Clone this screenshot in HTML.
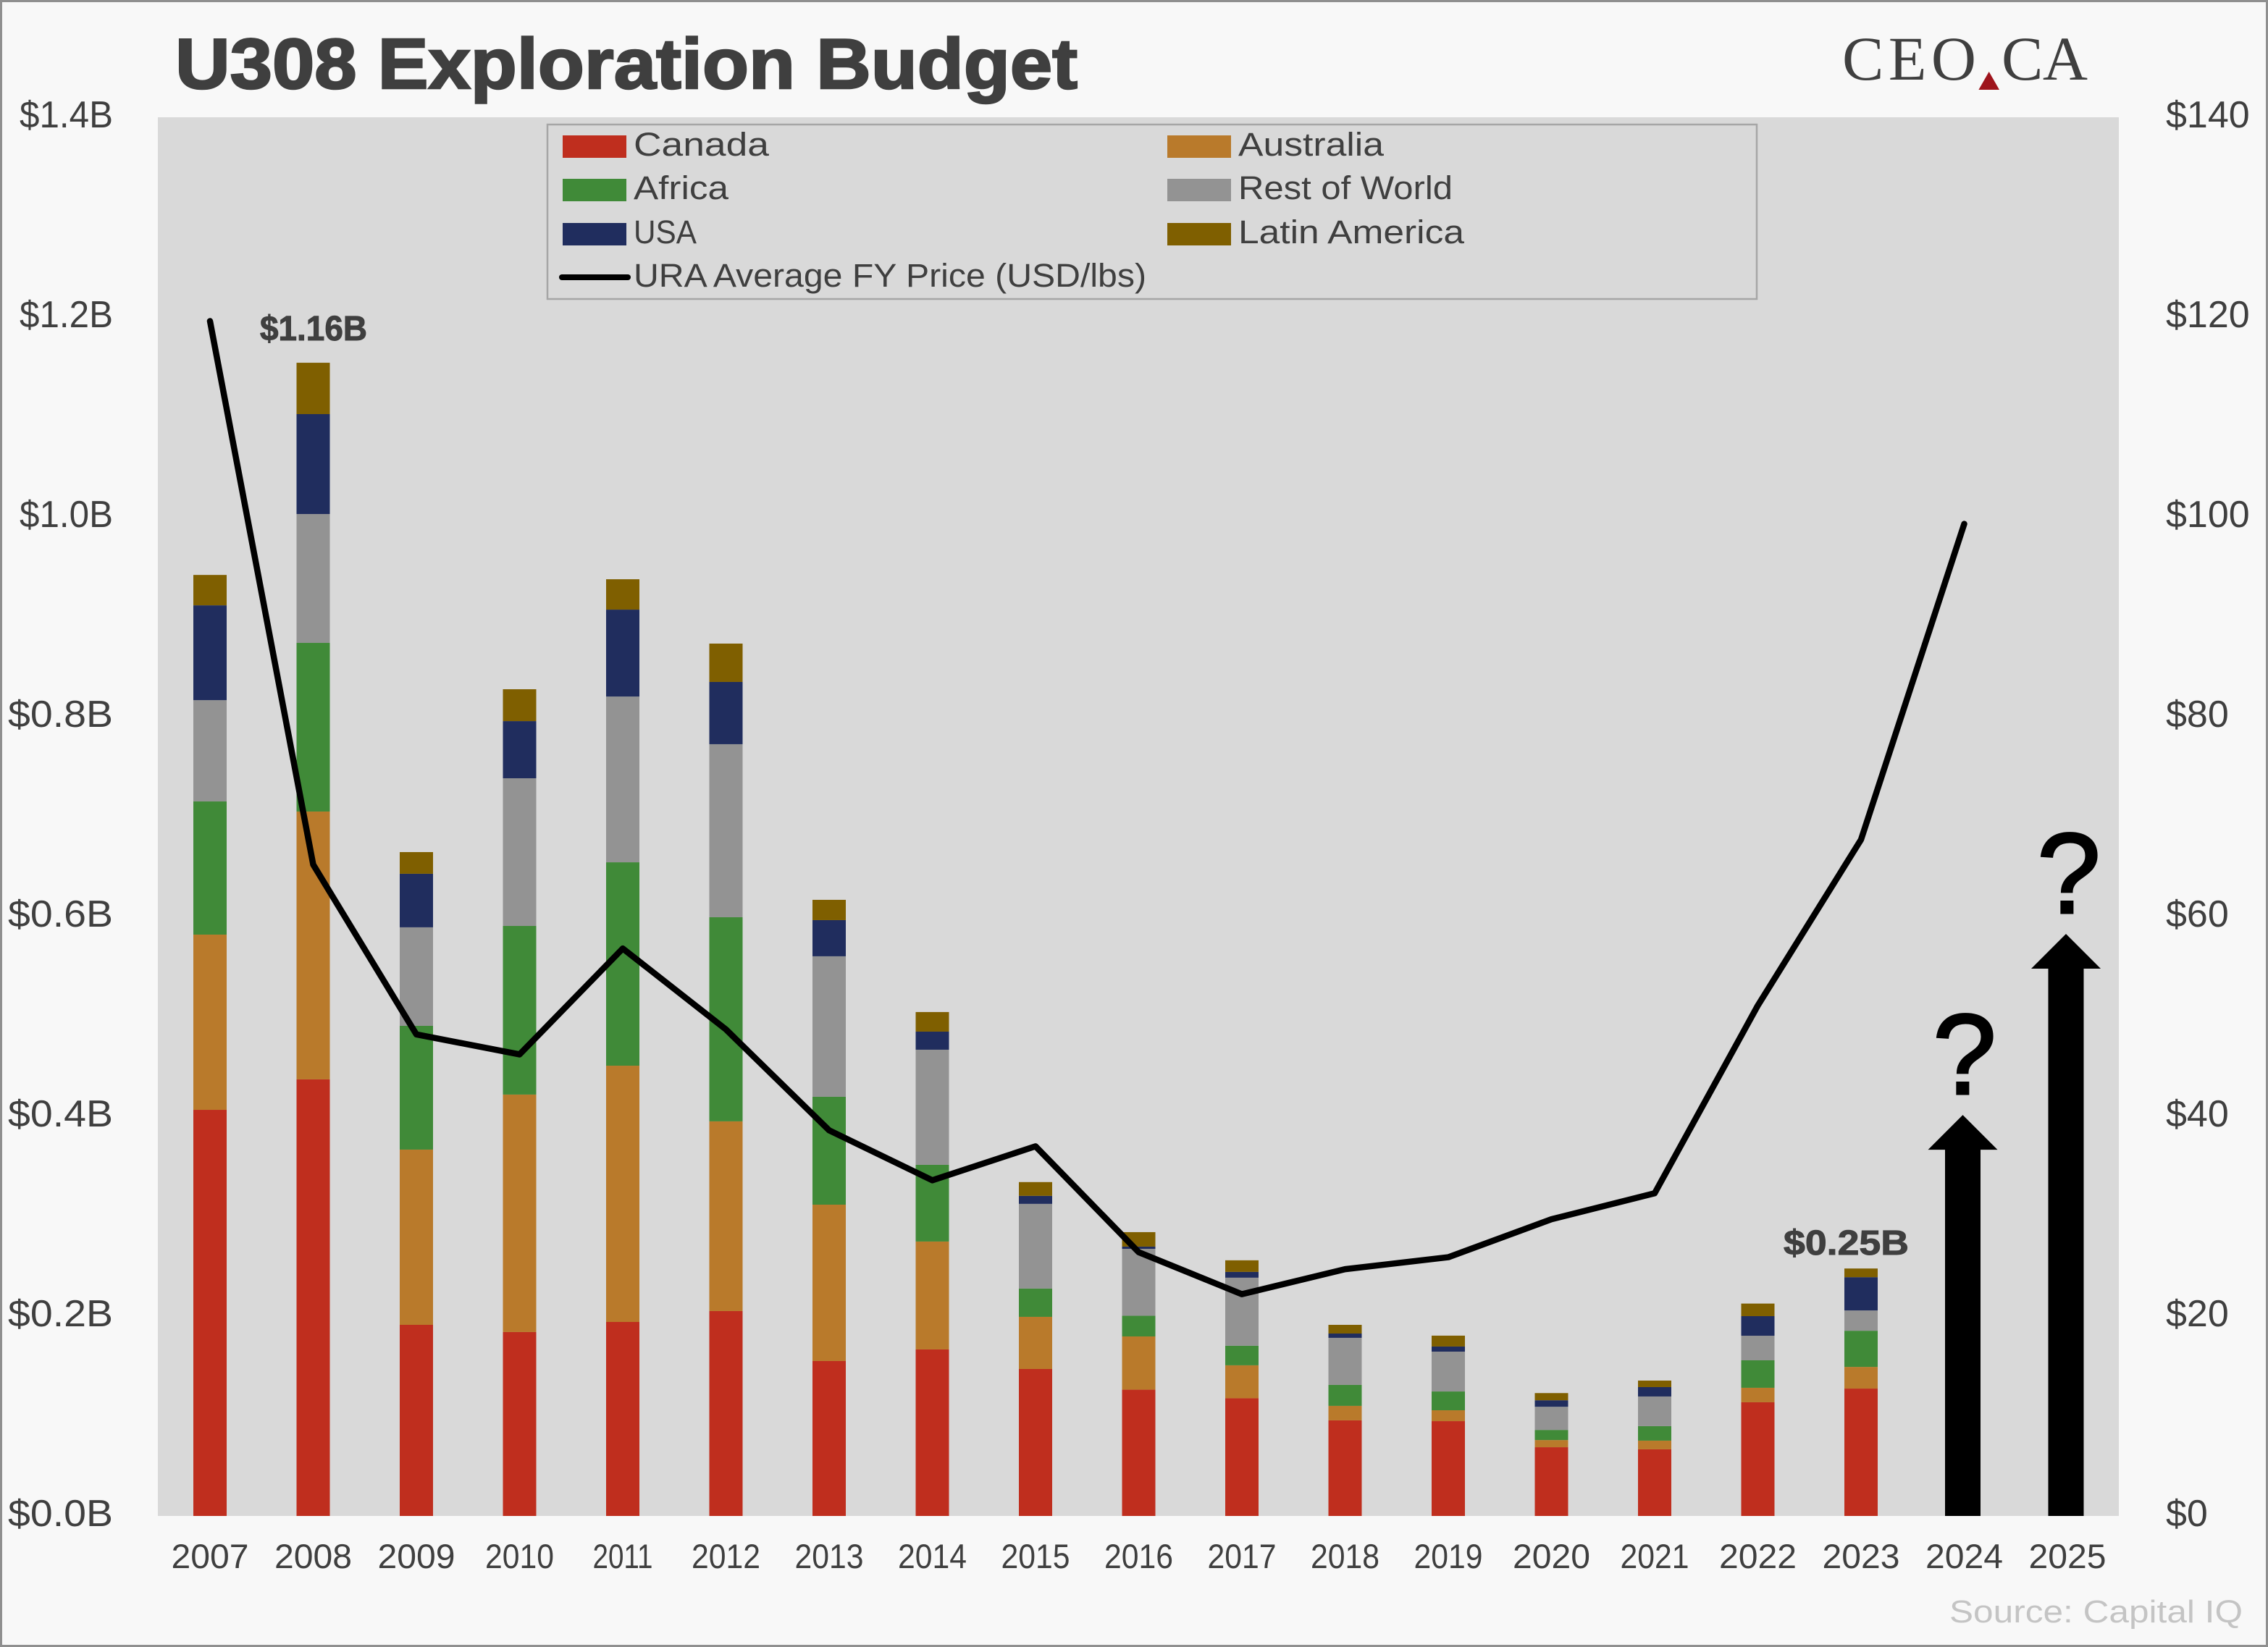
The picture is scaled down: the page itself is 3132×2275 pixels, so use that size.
<!DOCTYPE html>
<html lang="en">
<head>
<meta charset="utf-8">
<title>U308 Exploration Budget</title>
<style>
html,body{margin:0;padding:0;background:#f8f8f8;}
svg{display:block;font-family:"Liberation Sans",sans-serif;}
</style>
</head>
<body>
<svg id="chart" xmlns="http://www.w3.org/2000/svg" width="3132" height="2275" viewBox="0 0 3132 2275">
  <rect x="1.5" y="1.5" width="3129" height="2272" fill="#f8f8f8" stroke="#8f8f8f" stroke-width="3"/>
  <text x="242" y="122" font-size="98" font-weight="700" fill="#3f3f3f" stroke="#3f3f3f" stroke-width="2.5" textLength="1246" lengthAdjust="spacingAndGlyphs">U308 Exploration Budget</text>
  <g font-family="'Liberation Serif',serif" font-size="86" fill="#3f3f3f">
    <text x="2544" y="110" textLength="185" lengthAdjust="spacing">CEO</text>
    <text x="2764" y="110" textLength="119" lengthAdjust="spacing">CA</text>
    <polygon points="2746.7,99 2761,124 2732.4,124" fill="#9e141c"/>
  </g>
  <rect x="218" y="162" width="2708" height="1932" fill="#d9d9d9"/>
  <g id="bars"></g>
  <g id="arrows"></g>
  <g id="line"></g>
  <g id="yLeft" font-size="52" fill="#3f3f3f" text-anchor="end"></g>
  <g id="yRight" font-size="52" fill="#3f3f3f"></g>
  <g id="xAxis" font-size="47" fill="#3f3f3f" text-anchor="middle"></g>

  <text x="359" y="470" font-size="48" font-weight="700" fill="#3f3f3f" stroke="#3f3f3f" stroke-width="1" textLength="148" lengthAdjust="spacingAndGlyphs">$1.16B</text>
  <text x="2463" y="1733" font-size="48" font-weight="700" fill="#3f3f3f" stroke="#3f3f3f" stroke-width="1" textLength="173" lengthAdjust="spacingAndGlyphs">$0.25B</text>
  <text x="2713" y="1511" font-size="158" fill="#000" stroke="#000" stroke-width="3" text-anchor="middle">?</text>
  <text x="2857" y="1261" font-size="158" fill="#000" stroke="#000" stroke-width="3" text-anchor="middle">?</text>

  <g font-size="45" fill="#3f3f3f">
    <rect x="756" y="172" width="1670" height="241" fill="none" stroke="#a6a6a6" stroke-width="2.5"/>
    <g>
      <rect x="777" y="187" width="88" height="31" fill="#bf2e1e"/>
      <text x="875" y="215" textLength="187" lengthAdjust="spacingAndGlyphs">Canada</text>
    </g>
    <g>
      <rect x="1612" y="187" width="88" height="31" fill="#b97a2b"/>
      <text x="1710" y="215" textLength="201" lengthAdjust="spacingAndGlyphs">Australia</text>
    </g>
    <g>
      <rect x="777" y="247" width="88" height="31" fill="#408a38"/>
      <text x="875" y="275" textLength="131" lengthAdjust="spacingAndGlyphs">Africa</text>
    </g>
    <g>
      <rect x="1612" y="247" width="88" height="31" fill="#939393"/>
      <text x="1710" y="275" textLength="296" lengthAdjust="spacingAndGlyphs">Rest of World</text>
    </g>
    <g>
      <rect x="777" y="308" width="88" height="31" fill="#202d5e"/>
      <text x="875" y="336" textLength="87" lengthAdjust="spacingAndGlyphs">USA</text>
    </g>
    <g>
      <rect x="1612" y="308" width="88" height="31" fill="#7f5f00"/>
      <text x="1710" y="336" textLength="312" lengthAdjust="spacingAndGlyphs">Latin America</text>
    </g>
    <g>
      <line x1="776" y1="383" x2="867" y2="383" stroke="#000" stroke-width="8" stroke-linecap="round"/>
      <text x="875" y="396" textLength="708" lengthAdjust="spacingAndGlyphs">URA Average FY Price (USD/lbs)</text>
    </g>
  </g>
  <text x="2692" y="2241" font-size="44" fill="#c4c4c4" textLength="405" lengthAdjust="spacingAndGlyphs">Source: Capital IQ</text>
</svg>

<script>
// Chart data, in USD billions (left axis) and USD/lb (right axis)
var years = ["2007","2008","2009","2010","2011","2012","2013","2014","2015","2016","2017","2018","2019","2020","2021","2022","2023","2024","2025"];
var canada = [.4065,.4370,.1913,.1841,.1942,.2051,.1551,.1667,.1471,.1264,.1178,.0957,.0949,.0688,.0667,.1138,.1275];
var australia = [.1754,.2681,.1754,.2377,.2565,.1899,.1565,.1080,.0522,.0533,.0330,.0145,.0109,.0072,.0087,.0145,.0217];
var africa = [.1333,.1688,.1239,.1688,.2036,.2043,.1080,.0768,.0283,.0207,.0196,.0210,.0188,.0101,.0145,.0275,.0362];
var restOfWorld = [.1014,.1290,.0986,.1478,.1659,.1732,.1406,.1152,.0848,.0670,.0681,.0471,.0399,.0232,.0297,.0246,.0203];
var usa = [.0949,.1000,.0536,.0572,.0870,.0623,.0362,.0181,.0080,.0022,.0058,.0043,.0051,.0065,.0094,.0196,.0333];
var latinAmerica = [.0304,.0514,.0217,.0319,.0304,.0384,.0203,.0196,.0138,.0145,.0116,.0087,.0109,.0072,.0065,.0126,.0087];
var uraPrice = [119.6,65.2,48.2,46.2,56.8,48.7,38.6,33.6,37.0,26.4,22.2,24.7,25.9,29.7,32.3,51.1,67.7,99.3];
var arrowYears = [17,18];
var arrowValues = [.4014,.5826];
var leftTicks = [0,.2,.4,.6,.8,1.0,1.2,1.4];
var rightTicks = [0,20,40,60,80,100,120,140];
var seriesNames = ["canada","australia","africa","rest-of-world","usa","latin-america"];
var seriesValues = [canada,australia,africa,restOfWorld,usa,latinAmerica];
var seriesColors = ["#bf2e1e","#b97a2b","#408a38","#939393","#202d5e","#7f5f00"];

var NS = "http://www.w3.org/2000/svg";
var PLOT_TOP = 162, PLOT_BOTTOM = 2094, BAR_W = 46;
function xPos(i){ return 290 + 142.5 * i; }
function yLeft(v){ return PLOT_BOTTOM - (v / 1.4) * (PLOT_BOTTOM - PLOT_TOP); }
function yRight(v){ return PLOT_BOTTOM - (v / 140) * (PLOT_BOTTOM - PLOT_TOP); }
function make(tag, parent, attrs){
  var el = document.createElementNS(NS, tag);
  for (var k in attrs) el.setAttribute(k, attrs[k]);
  parent.appendChild(el);
  return el;
}

// Stacked bars
var barsG = document.getElementById("bars");
canada.forEach(function(_, i){
  var cum = 0;
  seriesValues.forEach(function(vals, s){
    var top = yLeft(cum + vals[i]);
    var base = yLeft(cum);
    var r = make("rect", barsG, {x: xPos(i) - BAR_W / 2, y: top, width: BAR_W, height: base - top, fill: seriesColors[s]});
    
    
    cum += vals[i];
  });
});

// Forecast arrows
var arrowsG = document.getElementById("arrows");
arrowYears.forEach(function(yi, k){
  var cx = xPos(yi) - 2;
  var tip = yLeft(arrowValues[k]);
  var neck = tip + 48;
  var pts = [[cx,tip],[cx+48,neck],[cx+24.5,neck],[cx+24.5,PLOT_BOTTOM],[cx-24.5,PLOT_BOTTOM],[cx-24.5,neck],[cx-48,neck]];
  var a = make("polygon", arrowsG, {points: pts.map(function(p){return p.join(",");}).join(" "), fill: "#000"});
  
  
});

// Price line
var lineG = document.getElementById("line");
var lineEl = make("polyline", lineG, {
  points: uraPrice.map(function(v, i){ return xPos(i) + "," + yRight(v); }).join(" "),
  fill: "none", stroke: "#000", "stroke-width": 8.5, "stroke-linejoin": "round", "stroke-linecap": "round"
});



// Axes
var yLeftG = document.getElementById("yLeft");
leftTicks.forEach(function(v){
  var t = make("text", yLeftG, {x: 156, y: yLeft(v) + 14, textLength: v >= 1 ? 129 : 145, lengthAdjust: "spacingAndGlyphs"});
  
  
  t.textContent = "$" + v.toFixed(1) + "B";
});
var yRightG = document.getElementById("yRight");
rightTicks.forEach(function(v){
  var t = make("text", yRightG, {x: 2991, y: yRight(v) + 14});
  
  
  t.textContent = "$" + v;
});
var xAxisG = document.getElementById("xAxis");
years.forEach(function(label, i){
  var ones = label.split("1").length - 1;
  var t = make("text", xAxisG, {x: xPos(i), y: 2166, textLength: 107 - 12 * ones, lengthAdjust: "spacingAndGlyphs"});
  
  
  t.textContent = label;
});
</script>
</body>
</html>
